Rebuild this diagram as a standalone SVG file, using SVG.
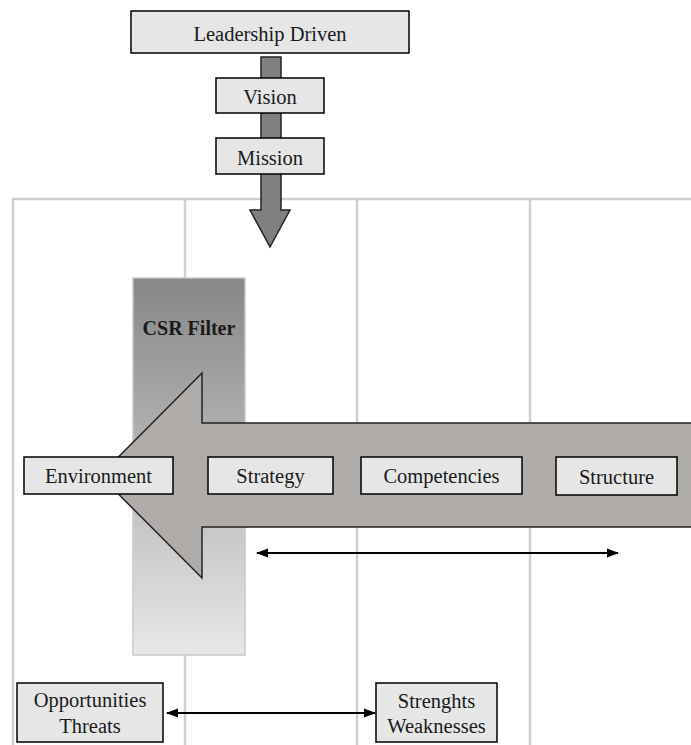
<svg xmlns="http://www.w3.org/2000/svg" width="691" height="745" viewBox="0 0 691 745">
<defs>
<linearGradient id="csr" x1="0" y1="0" x2="0" y2="1">
<stop offset="0" stop-color="#878787"/>
<stop offset="1" stop-color="#e8e8e8"/>
</linearGradient>
<marker id="ah" viewBox="0 0 12 10" refX="11" refY="5" markerWidth="12" markerHeight="10" markerUnits="userSpaceOnUse" orient="auto-start-reverse">
<path d="M0,0.5 L12,5 L0,9.5 Z" fill="#000"/>
</marker>
</defs>
<style>
.grid{stroke:#d0d0d0;stroke-width:2.5;fill:none}
.box{fill:#e6e6e6;stroke:#000;stroke-width:1.5}
.t{font-size:20.5px;fill:#1a1a1a;text-anchor:middle}
.conn{stroke:#000;stroke-width:2;fill:none}
</style>
<g id="grid">
<path class="grid" d="M13,745 V199 H691 M185,199 V745 M357,199 V745 M530,199 V745"/>
</g>
<g font-family="Liberation Serif, DejaVu Serif, serif">
<g id="csr-filter">
<rect x="133" y="278" width="112" height="377" fill="url(#csr)" stroke="#c8c8c8" stroke-width="1.5"/>
<text class="t" x="189" y="335" font-weight="bold" style="font-size:20px">CSR Filter</text>
</g>
<g id="down-arrow">
<path d="M261,57 H281 V210 H290 L270,247 L250,210 H261 Z" fill="#808080" stroke="#222" stroke-width="1.5"/>
</g>
<g id="big-arrow">
<path d="M700,423 H202 V373 L100,475.5 L202,578 V527 H700 Z" fill="#b0acaa" stroke="#222" stroke-width="1.5"/>
</g>
<g id="leadership">
<rect class="box" x="131" y="11" width="278" height="42"/>
<text class="t" x="270" y="41">Leadership Driven</text>
</g>
<g id="vision">
<rect class="box" x="216" y="78" width="108" height="35"/>
<text class="t" x="270" y="104">Vision</text>
</g>
<g id="mission">
<rect class="box" x="216" y="138" width="108" height="36"/>
<text class="t" x="270" y="165">Mission</text>
</g>
<g id="environment">
<rect class="box" x="24" y="457" width="149" height="37"/>
<text class="t" x="98.5" y="483">Environment</text>
</g>
<g id="strategy">
<rect class="box" x="208" y="457" width="125" height="37"/>
<text class="t" x="270.5" y="483">Strategy</text>
</g>
<g id="competencies">
<rect class="box" x="361" y="457" width="161" height="37"/>
<text class="t" x="441.5" y="483">Competencies</text>
</g>
<g id="structure">
<rect class="box" x="556" y="457" width="121" height="38"/>
<text class="t" x="616.5" y="484">Structure</text>
</g>
<g id="opportunities">
<rect class="box" x="17" y="683" width="146" height="59"/>
<text class="t" x="90" y="707">Opportunities</text>
<text class="t" x="90" y="733">Threats</text>
</g>
<g id="strengths">
<rect class="box" x="376" y="683" width="121" height="59"/>
<text class="t" x="436.5" y="708">Strenghts</text>
<text class="t" x="436.5" y="733">Weaknesses</text>
</g>
</g>
<g id="connectors">
<line class="conn" x1="257" y1="553" x2="618" y2="553" marker-start="url(#ah)" marker-end="url(#ah)"/>
<line class="conn" x1="167" y1="713" x2="375" y2="713" marker-start="url(#ah)" marker-end="url(#ah)"/>
</g>
</svg>
